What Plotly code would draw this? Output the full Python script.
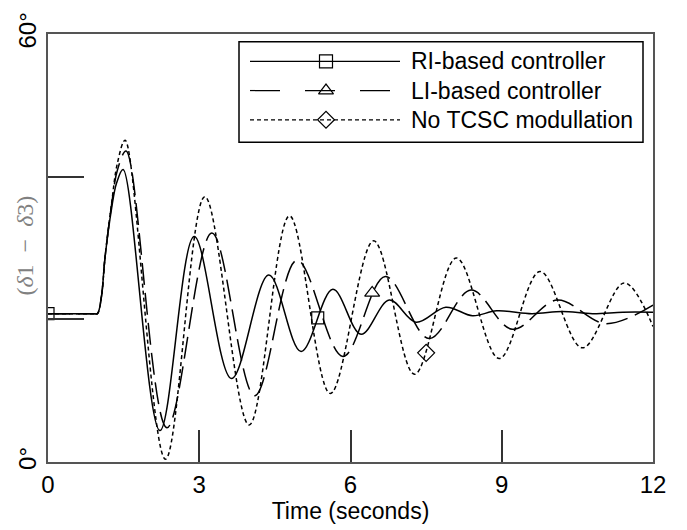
import plotly.graph_objects as go

# ---- data ----
t_ri = [0, 0.5, 0.9, 0.98, 1.06, 1.13, 1.26, 1.36, 1.49, 2.22, 2.90, 3.64, 4.38, 5.02, 5.65,
        6.21, 6.77, 7.30, 7.89, 8.42, 8.90, 9.60, 10.2, 10.8, 11.4, 12.0]
y_ri = [20.8, 20.8, 20.8, 20.8, 23.2, 28.6, 35.5, 39.1, 41.0, 4.4, 31.6, 11.7, 26.2, 15.5, 24.2,
        17.9, 22.7, 19.6, 21.7, 20.5, 21.2, 20.8, 21.1, 20.8, 21.0, 21.0]

t_li = [0, 0.5, 0.9, 0.98, 1.06, 1.13, 1.26, 1.38, 1.55, 2.36, 3.25, 4.10, 4.94, 5.85, 6.69,
        7.56, 8.39, 9.21, 10.10, 11.06, 12.0]
y_li = [20.8, 20.8, 20.8, 20.8, 23.2, 28.6, 36.0, 41.0, 43.6, 4.8, 32.1, 9.3, 28.3, 14.8, 26.0,
        17.3, 24.1, 18.6, 22.7, 19.4, 22.0]

t_nt = [0, 0.5, 0.9, 0.98, 1.06, 1.13, 1.26, 1.38, 1.53, 2.33, 3.11, 3.99, 4.79, 5.60, 6.46,
        7.27, 8.10, 8.95, 9.76, 10.60, 11.43, 12.0]
y_nt = [20.8, 20.8, 20.8, 20.8, 23.2, 28.6, 36.2, 42.0, 45.1, 0.4, 37.2, 5.2, 34.5, 9.6, 31.0,
        12.3, 28.6, 14.5, 26.7, 16.0, 25.1, 19.0]

# marker positions on the curves
mk_ri_t = [0.0, 5.35]
mk_ri_y = [20.8, 20.2]
mk_li_t = [6.43]
mk_li_y = [23.7]
mk_nt_t = [7.50]
mk_nt_y = [15.3]

series_names = ["RI-based controller", "LI-based controller", "No TCSC modullation"]
x_tick_vals = [0, 3, 6, 9, 12]
x_tick_text = ["0", "3", "6", "9", "12"]
y_tick_vals = [0, 20, 40, 60]
y_tick_text = ["0\u00b0", "", "", "60\u00b0"]

# ---- figure ----
W, H = 687, 530
ML, MR, MT, MB = 48, 34, 24, 67
PW, PH = W - ML - MR, H - MT - MB

LW = 1.5
dash_li = "22px,8px"
dash_nt = "4px,3px"

fig = go.Figure()
spl = dict(shape="spline", smoothing=1.0)
fig.add_trace(go.Scatter(x=t_ri, y=y_ri, mode="lines",
                         line=dict(color="black", width=LW, **spl)))
fig.add_trace(go.Scatter(x=t_li, y=y_li, mode="lines",
                         line=dict(color="black", width=LW, dash=dash_li, **spl)))
fig.add_trace(go.Scatter(x=t_nt, y=y_nt, mode="lines",
                         line=dict(color="black", width=LW, dash=dash_nt, **spl)))

mk_line = dict(color="black", width=1.2)
fig.add_trace(go.Scatter(x=mk_ri_t, y=mk_ri_y, mode="markers",
                         marker=dict(symbol="square-open", size=12, color="black", line=mk_line)))
fig.add_trace(go.Scatter(x=mk_li_t, y=mk_li_y, mode="markers",
                         marker=dict(symbol="triangle-up-open", size=13, color="black", line=mk_line)))
fig.add_trace(go.Scatter(x=mk_nt_t, y=mk_nt_y, mode="markers",
                         marker=dict(symbol="diamond-open", size=13, color="black", line=mk_line)))

# ---- legend drawn on a pixel overlay axis ----
leg_rows = [411, 381, 351]
leg_x0, leg_x1, leg_mx, leg_tx = 202, 352, 278, 361
leg_dash = ["solid", "30px,25px", "4px,3px"]
leg_sym = ["square-open", "triangle-up-open", "diamond-open"]
for i in range(3):
    fig.add_trace(go.Scatter(x=[leg_x0, leg_x1], y=[leg_rows[i], leg_rows[i]], mode="lines",
                             xaxis="x2", yaxis="y2",
                             line=dict(color="black", width=1.2, dash=leg_dash[i])))
    fig.add_trace(go.Scatter(x=[leg_mx], y=[leg_rows[i]], mode="markers", xaxis="x2", yaxis="y2",
                             marker=dict(symbol=leg_sym[i], size=13, color="black", line=mk_line)))
    fig.add_annotation(x=leg_tx, y=leg_rows[i], xref="x2", yref="y2", text=series_names[i],
                       showarrow=False, xanchor="left", yanchor="middle",
                       font=dict(family="Liberation Sans, Arial", size=23, color="black"))

fig.add_shape(type="rect", xref="x2", yref="y2", x0=191, x1=595, y0=328, y1=431,
              line=dict(color="black", width=1.5), fillcolor="white", layer="below")

# y-axis title (serif, gray)
fig.add_annotation(xref="paper", yref="paper", x=(25 - ML) / PW, y=(H - MB - 241) / PH,
                   text="(<i>\u03b4</i>1\u2002\u2212\u2002<i>\u03b4</i>3)", textangle=-90,
                   showarrow=False, xanchor="center", yanchor="middle",
                   font=dict(family="Liberation Serif, DejaVu Serif", size=24, color="#808080"))

fig.update_layout(
    width=W, height=H,
    margin=dict(l=ML, r=MR, t=MT, b=MB, pad=0),
    paper_bgcolor="white", plot_bgcolor="white",
    showlegend=False,
    font=dict(family="Liberation Sans, Arial", color="black"),
    xaxis=dict(range=[0, 12], tickvals=x_tick_vals, ticktext=x_tick_text,
               ticks="inside", ticklen=32, tickwidth=1.5, tickcolor="#333",
               showline=True, linecolor="#555", linewidth=2, mirror=True,
               showgrid=False, zeroline=False,
               tickfont=dict(size=24, family="Liberation Sans, Arial"),
               title=dict(text="Time (seconds)", font=dict(size=23, family="Liberation Sans, Arial"),
                          standoff=4)),
    yaxis=dict(range=[0, 60], tickvals=y_tick_vals, ticktext=y_tick_text, tickangle=-90,
               ticks="inside", ticklen=36, tickwidth=1.5, tickcolor="#333",
               showline=True, linecolor="#555", linewidth=2, mirror=True,
               showgrid=False, zeroline=False,
               tickfont=dict(size=24, family="Liberation Sans, Arial")),
    xaxis2=dict(range=[0, PW], overlaying="x", anchor="y2", visible=False, fixedrange=True),
    yaxis2=dict(range=[0, PH], overlaying="y", anchor="x2", visible=False, fixedrange=True),
)

fig.write_html("out.html")
